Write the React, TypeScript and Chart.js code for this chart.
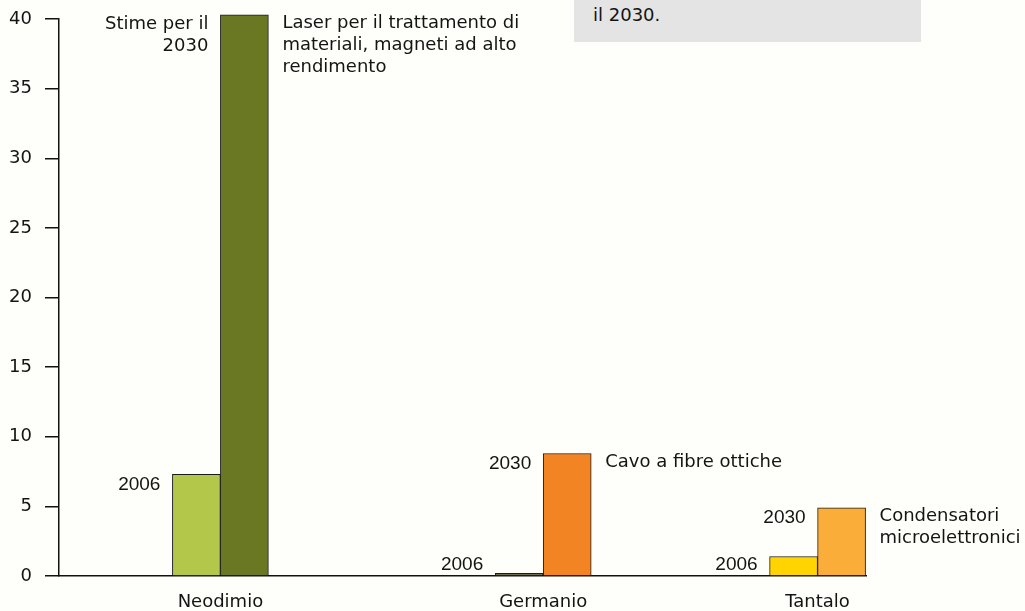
import { useEffect, useRef } from 'react';
import { Chart, registerables } from 'chart.js';

Chart.register(...registerables);

// Rare metals: world demand (thousand tonnes), 2006 vs 2030 estimate
const categories = ['Neodimio', 'Germanio', 'Tantalo'];
const demand2006 = [7.3, 0.2, 1.4];
const demand2030 = [40.3, 8.8, 4.9];
const yearLabels2006 = [['2006'], ['2006'], ['2006']];
const yearLabels2030 = [['Stime per il', '2030'], ['2030'], ['2030']];
const uses = [
  ['Laser per il trattamento di', 'materiali, magneti ad alto', 'rendimento'],
  ['Cavo a fibre ottiche'],
  ['Condensatori', 'microelettronici'],
];
const colors2006 = ['#b3c84b', '#6f6f52', '#ffd400'];
const colors2030 = ['#6b7823', '#f28424', '#faad38'];
const noteLines = ['il 2030.'];

// The x axis is split into evenly spaced slots; each metal sits on one of them.
const SLOT_COUNT = 51;
const categorySlots = [10, 30, 47];

const FONT = "'DejaVu Sans', Verdana, sans-serif";
const YEAR_FONT = "'Liberation Sans', Arial, sans-serif";
const TEXT = '#141414';

function buildSlots<T>(values: T[], fill: T): T[] {
  const out: T[] = new Array(SLOT_COUNT).fill(fill);
  categorySlots.forEach((s, i) => {
    out[s] = values[i];
  });
  return out;
}

const annotations = {
  id: 'barAnnotations',
  afterDatasetsDraw(chart: any) {
    const ctx = chart.ctx as CanvasRenderingContext2D;
    const m06 = chart.getDatasetMeta(0);
    const m30 = chart.getDatasetMeta(1);
    const base = chart.scales.y.getPixelForValue(0);
    const lineH = 22;
    ctx.save();
    ctx.fillStyle = TEXT;
    ctx.textBaseline = 'middle';
    categorySlots.forEach((slot, i) => {
      const b06 = m06.data[slot];
      const b30 = m30.data[slot];
      // year labels, to the left of each bar
      const drawYear = (bar: any, lines: string[]) => {
        const x = bar.x - bar.width / 2 - 12;
        const y = Math.min(bar.y + 10, base - 11);
        ctx.textAlign = 'right';
        lines.forEach((t, k) => {
          const plainYear = lines.length === 1;
          ctx.font = plainYear ? `19px ${YEAR_FONT}` : `18px ${FONT}`;
          ctx.fillText(t, x, y + k * lineH);
        });
      };
      drawYear(b06, yearLabels2006[i]);
      drawYear(b30, yearLabels2030[i]);
      // uses, to the right of the 2030 bar
      ctx.textAlign = 'left';
      ctx.font = `18px ${FONT}`;
      const ux = b30.x + b30.width / 2 + 14;
      uses[i].forEach((t, k) => {
        ctx.fillText(t, ux, b30.y + 9 + k * lineH);
      });
    });
    ctx.restore();
  },
};

function BarChart() {
  const ref = useRef<HTMLCanvasElement | null>(null);

  useEffect(() => {
    if (!ref.current) return;
    const labels = buildSlots<string>(categories, '');
    const chart = new Chart(ref.current, {
      type: 'bar',
      data: {
        labels,
        datasets: [
          {
            label: '2006',
            data: buildSlots<number | null>(demand2006, null),
            backgroundColor: buildSlots<string>(colors2006, 'transparent'),
            borderColor: '#1a1a1a',
            borderWidth: 1,
            barThickness: 48,
            clip: false as any,
          },
          {
            label: '2030',
            data: buildSlots<number | null>(demand2030, null),
            backgroundColor: buildSlots<string>(colors2030, 'transparent'),
            borderColor: '#1a1a1a',
            borderWidth: 1,
            barThickness: 48,
            clip: false as any,
          },
        ],
      },
      options: {
        animation: false,
        responsive: false,
        maintainAspectRatio: false,
        layout: { padding: { top: 19, right: 159, bottom: 0, left: 0 } },
        plugins: {
          legend: { display: false },
          tooltip: { enabled: false },
          title: { display: false },
        },
        scales: {
          x: {
            type: 'category',
            offset: false,
            grid: { display: false, drawTicks: false },
            border: { display: true, color: '#111', width: 1.5 },
            ticks: {
              autoSkip: false,
              maxRotation: 0,
              minRotation: 0,
              padding: 16,
              color: TEXT,
              font: { family: FONT, size: 18 },
            },
            afterFit: (s: any) => {
              s.height = 35;
              s.paddingLeft = 0;
              s.paddingRight = 0;
            },
          },
          y: {
            min: 0,
            max: 40,
            ticks: {
              stepSize: 5,
              padding: 13,
              color: TEXT,
              font: { family: FONT, size: 18 },
            },
            grid: {
              drawOnChartArea: false,
              drawTicks: true,
              tickLength: 14,
              color: '#111',
              lineWidth: 1.5,
            },
            border: { display: true, color: '#111', width: 1.5 },
            afterFit: (s: any) => {
              s.width = 59;
              s.paddingTop = 0;
              s.paddingBottom = 0;
            },
          },
        },
      },
      plugins: [annotations],
    });
    return () => chart.destroy();
  }, []);

  return <canvas ref={ref} width={1025} height={611} style={{ display: 'block' }} />;
}

export default function App() {
  return (
    <div
      style={{
        position: 'fixed',
        left: 0,
        top: 0,
        width: 1025,
        height: 611,
        background: '#fefefa',
        overflow: 'hidden',
      }}
    >
      <BarChart />
      <div
        style={{
          position: 'absolute',
          left: 574,
          top: 0,
          width: 347,
          height: 42,
          background: '#e4e4e4',
        }}
      >
        {noteLines.map((t, i) => (
          <div
            key={i}
            style={{
              position: 'absolute',
              left: 19,
              top: 4 + i * 22,
              font: `18px ${FONT}`,
              lineHeight: '22px',
              color: TEXT,
              whiteSpace: 'nowrap',
            }}
          >
            {t}
          </div>
        ))}
      </div>
    </div>
  );
}
